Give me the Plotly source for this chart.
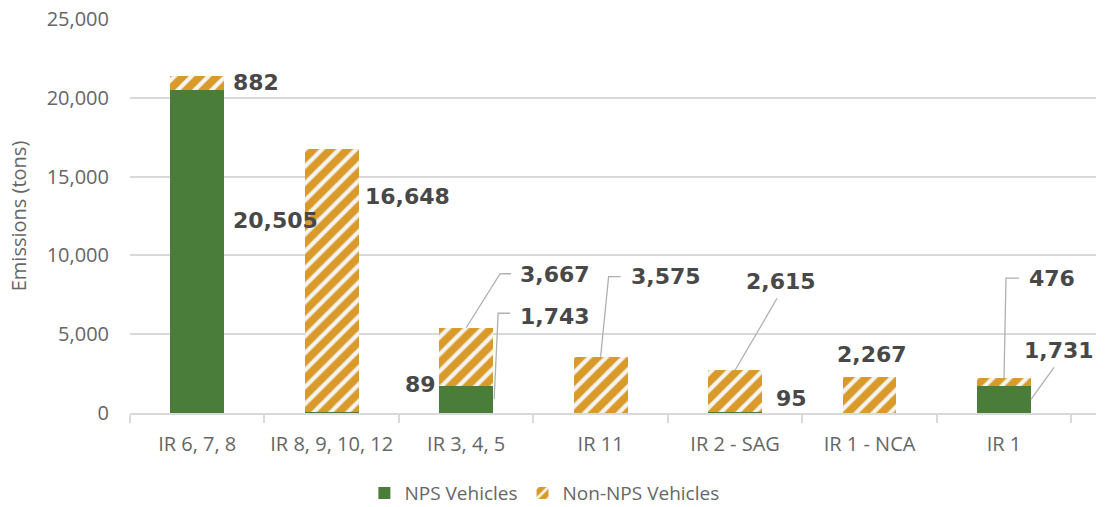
import plotly.graph_objects as go

categories = ["IR 6, 7, 8", "IR 8, 9, 10, 12", "IR 3, 4, 5", "IR 11",
              "IR 2 - SAG", "IR 1 - NCA", "IR 1"]
nps_vehicles = [20505, 89, 1743, 0, 95, 0, 1731]
non_nps_vehicles = [882, 16648, 3667, 3575, 2615, 2267, 476]

GREEN = "#4a7d3a"
ORANGE = "#d99a2a"
LABEL_FONT = dict(family="DejaVu Sans", size=22, color="#484848")
GRAY_TEXT = "#666666"

# label placement: (category idx, series, anchor, xshift px, yshift px, xanchor, leader path in px)
label_layout = [
    (0, "non", "mid", 34, 0, "left", None),
    (0, "nps", "mid", 34, 31, "left", None),
    (1, "non", "mid", 31, 84, "left", None),
    (1, "nps", "top", 71, 27, "left", None),
    (2, "non", "top", 52, 53, "left", [(0, 0), (34, 54), (45, 54)]),
    (2, "nps", "mid", 52, 83, "left", [(28, 0), (32, 86), (44, 86)]),
    (3, "non", "top", 28, 80, "left", [(0, 0), (8, 80), (20, 80)]),
    (4, "non", "top", 9, 89, "left", [(0, 0), (42, 72)]),
    (4, "nps", "top", 39, 13, "left", None),
    (5, "non", "top", 2, 23, "center", None),
    (6, "non", "top", 23, 100, "left", [(0, 0), (2, 100), (15, 100)]),
    (6, "nps", "mid", 18, 49, "left", [(27, 0), (50, 32)]),
]

fig = go.Figure()
fig.add_trace(go.Bar(x=categories, y=nps_vehicles, name="NPS Vehicles",
                     marker=dict(color=GREEN, line=dict(width=0))))
fig.add_trace(go.Bar(x=categories, y=non_nps_vehicles, name="Non-NPS Vehicles",
                     marker=dict(color=ORANGE, line=dict(width=0),
                                 pattern=dict(shape="/", fgcolor="#f4f4f4", bgcolor=ORANGE,
                                              size=12, solidity=0.35, fillmode="replace"))))

for i, series, anchor, xs, ys, xa, path in label_layout:
    base = nps_vehicles[i] if series == "non" else 0
    val = non_nps_vehicles[i] if series == "non" else nps_vehicles[i]
    y_anchor = base + val if anchor == "top" else base + val / 2
    fig.add_annotation(x=i, y=y_anchor, text=f"<b>{val:,}</b>", showarrow=False,
                       xshift=xs, yshift=ys, xanchor=xa, yanchor="middle",
                       font=LABEL_FONT)
    if path:
        d = "M " + " L ".join(f"{px},{py}" for px, py in path)
        fig.add_shape(type="path", path=d, xref="x", yref="y",
                      xsizemode="pixel", ysizemode="pixel",
                      xanchor=i, yanchor=y_anchor,
                      line=dict(color="#b0b0b0", width=1.3))

fig.update_layout(
    barmode="stack",
    bargap=0.6,
    width=1111, height=507,
    margin=dict(l=130, r=15, t=19, b=94, autoexpand=False),
    plot_bgcolor="white", paper_bgcolor="white",
    font=dict(family="Open Sans", size=20, color=GRAY_TEXT),
    legend=dict(orientation="h", xref="container", yref="container",
                x=0.49, xanchor="center", y=0.065, yanchor="top",
                traceorder="normal",
                font=dict(size=19, color=GRAY_TEXT), itemwidth=30),
)
fig.update_xaxes(showline=True, linecolor="#d9d9d9", linewidth=1.5,
                 ticks="outside", tickson="boundaries", ticklen=8,
                 tickcolor="#d9d9d9", tickwidth=1.5, ticklabelstandoff=12,
                 showgrid=False, automargin=False)
fig.update_yaxes(range=[0, 25000], dtick=5000, tickformat=",",
                 gridcolor="#d9d9d9", gridwidth=1.5, zeroline=False,
                 ticklabelstandoff=20, automargin=False,
                 title=dict(text="Emissions (tons)", standoff=14, font=dict(size=20)))

fig.write_html("out.html", config={"displayModeBar": False},
               post_script="document.body.style.margin='0px';")
